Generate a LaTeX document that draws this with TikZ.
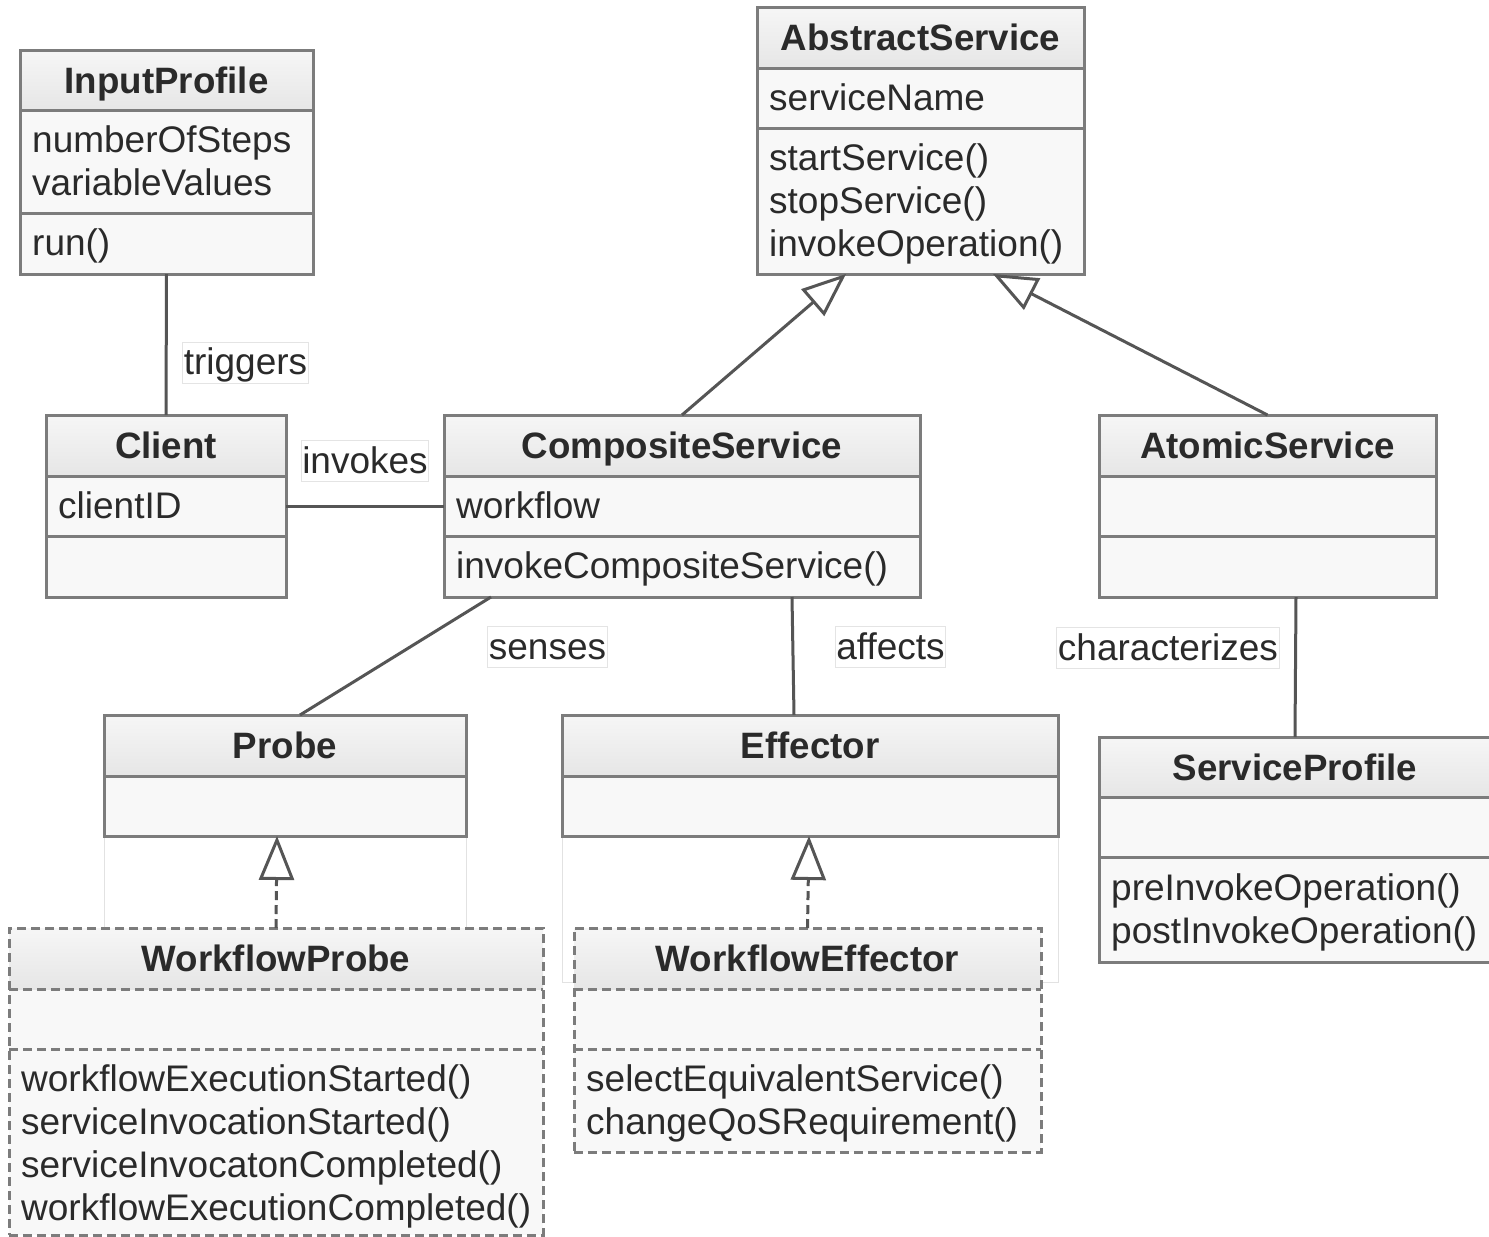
\documentclass[tikz,border=0pt]{standalone}
\usepackage{fontspec}
\setmainfont{Liberation Sans}
\usetikzlibrary{arrows.meta,fit,calc}
\definecolor{boxline}{HTML}{7C7C7C}
\definecolor{conline}{HTML}{555555}
\definecolor{txt}{HTML}{2A2A2A}
\definecolor{bodyc}{HTML}{F8F8F8}
\definecolor{headtop}{HTML}{F6F6F6}
\definecolor{headbot}{HTML}{E6E6E6}
\definecolor{faint}{HTML}{E2E2E2}
\definecolor{lblline}{HTML}{E4E4E4}
\tikzset{
  solidbox/.style={draw=boxline, line width=3pt},
  dashbox/.style={draw=boxline, line width=3pt, dash pattern=on 9pt off 5pt},
  headshade/.style={top color=headtop, bottom color=headbot},
  boxfill/.style={fill=bodyc},
  titletext/.style={font=\fontsize{36.7}{43}\selectfont\bfseries, text=txt, inner sep=0pt, anchor=base},
  membertext/.style={font=\fontsize{37}{43}\selectfont, text=txt, anchor=base west, inner xsep=12pt, inner ysep=0pt},
  lbl/.style={font=\fontsize{37}{43}\selectfont, text=txt, fill=white, draw=lblline, line width=1pt, inner xsep=1.2pt, inner ysep=1pt, text height=31.5pt, text depth=7.5pt},
  conn/.style={draw=conline, line width=3pt},
  gen/.style={conn, -{Triangle[fill=white, length=44pt, width=35pt]}},
  real/.style={conn, dash pattern=on 9pt off 5pt, -{Triangle[fill=white, length=44pt, width=35pt]}},
  faintbox/.style={draw=faint, line width=1pt},
}
% #1 name, #2 x1, #3 x2, #4 ytop, #5 yhead, #6 ybot, #7 title, #8 frame style
\newcommand\umlclass[8]{%
  \fill[boxfill] (#2,#4) rectangle (#3,#6);
  \shade[headshade] (#2,#4) rectangle (#3,#5);
  \draw[#8] (#2,#5) -- (#3,#5);
  \node[#8, fit={(#2,#4) (#3,#6)}, inner sep=0pt, outer sep=0pt] (#1) {};
}
\newcommand\mline[4]{\node[membertext] (#1) at (#2,#3) {#4};}
\begin{document}
\begin{tikzpicture}[x=1pt, y=-1pt]
\useasboundingbox (0,0) rectangle (1489,1237);
\clip (0,0) rectangle (1489,1237);
\fill[white] (0,0) rectangle (1489,1237);

% faint background frames
\draw[faintbox] (104,715) rectangle (466,985);
\draw[faintbox] (562,715) rectangle (1058,982);

% InputProfile
\umlclass{ip}{20}{313}{50}{110}{274}{}{solidbox}
\draw[solidbox] (20,213) -- (313,213);
\node[titletext] (ip-t) at (166.5,93) {InputProfile};
\mline{ip-a1}{20}{152}{numberOfSteps}
\mline{ip-a2}{20}{195}{variableValues}
\mline{ip-m1}{20}{255.5}{run()}

% AbstractService
\umlclass{as}{757}{1084}{7}{68}{274}{}{solidbox}
\draw[solidbox] (757,128) -- (1084,128);
\node[titletext] (as-t) at (920.5,50) {AbstractService};
\mline{as-a1}{757}{110}{serviceName}
\mline{as-m1}{757}{170}{startService()}
\mline{as-m2}{757}{213}{stopService()}
\mline{as-m3}{757}{256}{invokeOperation()}

% Client
\umlclass{cl}{46}{286}{415}{476}{597}{}{solidbox}
\draw[solidbox] (46,536) -- (286,536);
\node[titletext] (cl-t) at (166,458) {Client};
\mline{cl-a1}{46}{518}{clientID}

% CompositeService
\umlclass{cs}{444}{920}{415}{476}{597}{}{solidbox}
\draw[solidbox] (444,536) -- (920,536);
\node[titletext] (cs-t) at (682,458) {CompositeService};
\mline{cs-a1}{444}{518}{workflow}
\mline{cs-m1}{444}{578.5}{invokeCompositeService()}

% AtomicService
\umlclass{at}{1099}{1436}{415}{476}{597}{}{solidbox}
\draw[solidbox] (1099,536) -- (1436,536);
\node[titletext] (at-t) at (1267.5,458) {AtomicService};

% Probe
\umlclass{pr}{104}{466}{715}{776}{836}{}{solidbox}
\node[titletext] (pr-t) at (285,758) {Probe};

% Effector
\umlclass{ef}{562}{1058}{715}{776}{836}{}{solidbox}
\node[titletext] (ef-t) at (810,758) {Effector};

% ServiceProfile (runs past right edge)
\umlclass{sp}{1099}{1500}{737}{797}{962}{}{solidbox}
\node[titletext] (sp-t) at (1295,780) {ServiceProfile};
\draw[solidbox] (1099,857) -- (1500,857);
\mline{sp-m1}{1099}{900}{preInvokeOperation()}
\mline{sp-m2}{1099}{943}{postInvokeOperation()}

% WorkflowProbe
\umlclass{wp}{9}{543}{928}{989}{1235}{}{dashbox}
\draw[dashbox] (9,1049) -- (543,1049);
\node[titletext] (wp-t) at (276,971) {WorkflowProbe};
\mline{wp-m1}{9}{1091}{workflowExecutionStarted()}
\mline{wp-m2}{9}{1134}{serviceInvocationStarted()}
\mline{wp-m3}{9}{1177}{serviceInvocatonCompleted()}
\mline{wp-m4}{9}{1220}{workflowExecutionCompleted()}

% WorkflowEffector
\umlclass{we}{574}{1041}{928}{989}{1152}{}{dashbox}
\draw[dashbox] (574,1049) -- (1041,1049);
\node[titletext] (we-t) at (807.5,971) {WorkflowEffector};
\mline{we-m1}{574}{1091}{selectEquivalentService()}
\mline{we-m2}{574}{1134}{changeQoSRequirement()}

% connectors
\draw[conn] (ip.south) -- (cl.north);
\draw[conn] (cl.east) -- (cs.west);
\draw[gen] (cs.north) -- ([xshift=89pt]as.south west);
\draw[gen] (at.north) -- ([xshift=236pt]as.south west);
\draw[conn] ([xshift=47pt]cs.south west) -- ([xshift=15pt]pr.north);
\draw[conn] ([xshift=348pt]cs.south west) -- ([xshift=232pt]ef.north west);
\draw[conn] ([xshift=197pt]at.south west) -- ([xshift=196pt]sp.north west);
\draw[real] (wp.north) -- ([xshift=-8pt]pr.south);
\draw[real] (we.north) -- ([xshift=-1pt]ef.south);

% labels
\node[lbl] (l-trig) at (245.5,362.5) {triggers};
\node[lbl] (l-inv) at (365,461) {invokes};
\node[lbl] (l-sen) at (547.5,647) {senses};
\node[lbl] (l-aff) at (890.5,647) {affects};
\node[lbl] (l-char) at (1168,648) {characterizes};
\end{tikzpicture}
\end{document}
